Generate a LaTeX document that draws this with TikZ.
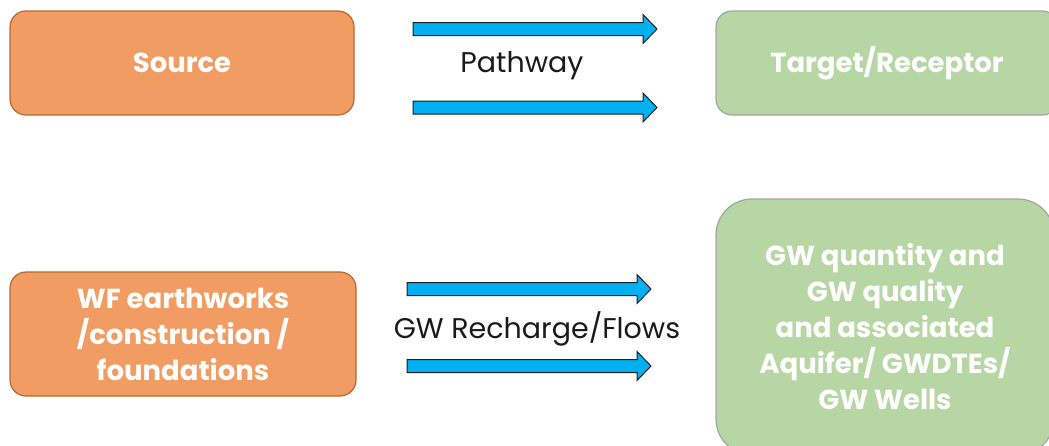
\documentclass[tikz,border=0pt]{standalone}
\usepackage{fontspec}
\setmainfont{Poppins}
\begin{document}
\begin{tikzpicture}[x=1pt,y=-1pt,
  srcbox/.style={draw=orangeedge, fill=orangefill, line width=1.2pt, rounded corners=16pt,
    text=white, font=\bfseries\fontsize{27.5}{36}\selectfont, align=center, inner sep=0pt},
  tgtbox/.style={draw=greenedge, fill=greenfill, line width=1.2pt, rounded corners=16pt,
    text=white, font=\bfseries\fontsize{27.5}{36}\selectfont, align=center, inner sep=0pt},
  pathlabel/.style={text=labeltext, font=\fontsize{28.5}{32}\selectfont, inner sep=0pt},
  arrowstyle/.style={draw=arrowedge, fill=arrowfill, line width=1pt, line join=miter},
  blockarrow/.pic={\draw[arrowstyle] (0,-6.5) -- (230,-6.5) -- (230,-14.5) -- (244,0) -- (230,14.5) -- (230,6.5) -- (0,6.5) -- cycle;}
]
\definecolor{orangefill}{HTML}{F09C62}
\definecolor{orangeedge}{HTML}{B5692F}
\definecolor{greenfill}{HTML}{B6D7A3}
\definecolor{greenedge}{HTML}{A3A3A3}
\definecolor{arrowfill}{HTML}{00B0F0}
\definecolor{arrowedge}{HTML}{1E1E1E}
\definecolor{labeltext}{HTML}{1A1A1A}
\useasboundingbox (0,0) rectangle (1049,445);
\clip (0,0) rectangle (1049,445);
\fill[white] (0,0) rectangle (1049,445);

\node[srcbox, minimum width=344pt, minimum height=104pt] (source) at (182,63) {Source};
\node[tgtbox, minimum width=342pt, minimum height=104pt] (target) at (887,63) {Target/Receptor};
\node[srcbox, minimum width=346pt, minimum height=124pt] (wf) at (183,334)
  {WF earthworks\\/construction /\\foundations};
\node[tgtbox, rounded corners=36pt, minimum width=338pt, minimum height=256pt] (gw) at (885,327)
  {GW quantity and\\GW quality\\and associated\\Aquifer/ GWDTEs/\\GW Wells};

\pic at (413,29) {blockarrow};
\pic at (413,107.5) {blockarrow};
\node[pathlabel] (pathway) at (522,66) {Pathway};

\pic at (407,289) {blockarrow};
\pic at (407,366) {blockarrow};
\node[pathlabel] (recharge) at (537,329) {GW Recharge/Flows};
\end{tikzpicture}
\end{document}
